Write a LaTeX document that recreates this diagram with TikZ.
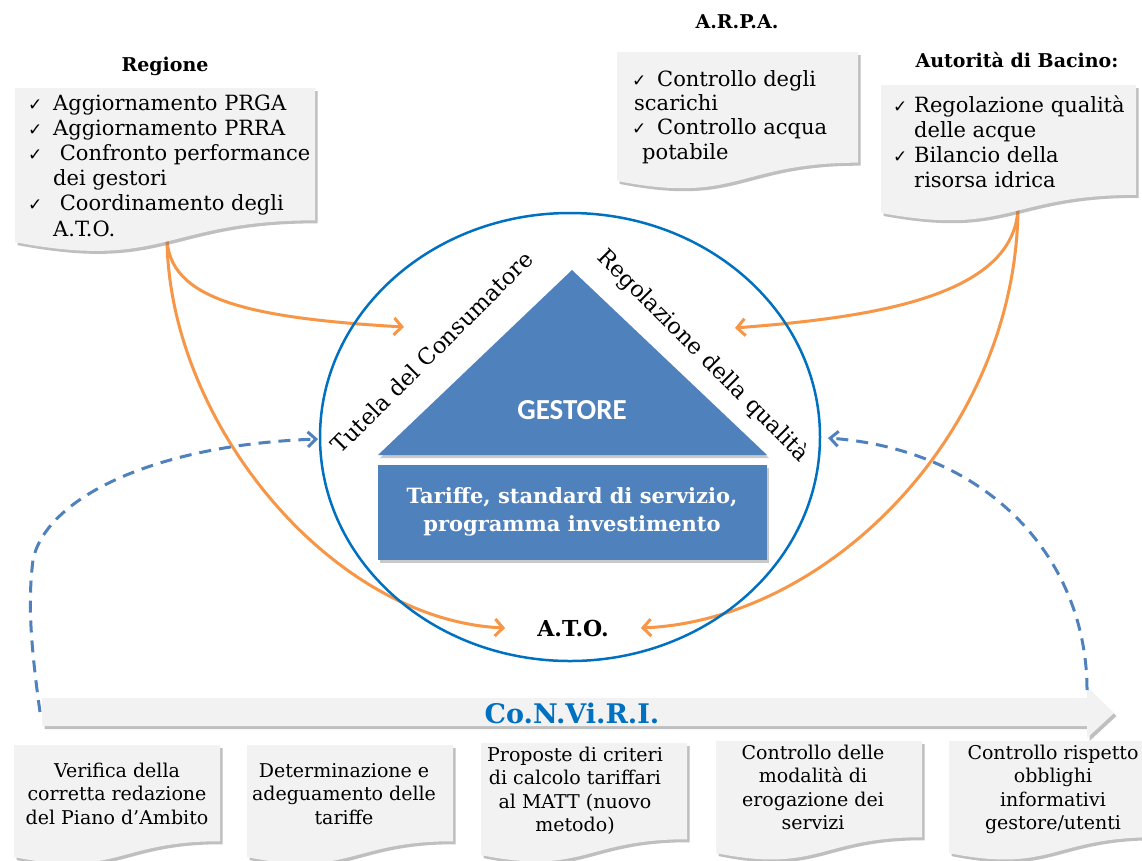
\documentclass[tikz,border=0pt]{standalone}
\usepackage{fontspec}
\setmainfont{DejaVu Serif}
\newfontfamily\gestfont{Carlito}
\newfontfamily\ckfont{DejaVu Sans}
\usetikzlibrary{arrows.meta,shadows}

\definecolor{accblue}{HTML}{4F81BD}
\definecolor{ringblue}{HTML}{0070C0}
\definecolor{flowor}{HTML}{F79646}
\definecolor{docgray}{HTML}{F2F2F2}

% check mark in a slot of given width, and the matching indent
\newcommand{\ckw}[1]{\makebox[#1][l]{\ckfont\fontsize{17}{17}\selectfont ✓}}
\newcommand{\ckb}{\ckw{25pt}}
\newcommand{\ind}{\hspace*{25pt}}

% flowchart "document" shape: x, y (top left), width, height
\newcommand{\docbox}[4]{%
  \fill[docgray, docshadow] (#1,#2) -- ({#1+#3},#2) -- ({#1+#3},{#2+0.802*#4})
    .. controls ({#1+0.5*#3},{#2+0.802*#4}) and ({#1+0.5*#3},{#2+1.107*#4}) ..
    (#1,{#2+0.934*#4}) -- cycle;}

\begin{document}
\begin{tikzpicture}[x=1pt,y=-1pt,
  docshadow/.style={drop shadow={shadow xshift=2.5pt,shadow yshift=-3pt,opacity=.45,fill=black!55}},
  shapeshadow/.style={drop shadow={shadow xshift=2pt,shadow yshift=-3pt,opacity=.35,fill=black!60}},
  oarrow/.style={draw=flowor, line width=3pt, line cap=round, -{Straight Barb[length=8pt,width=17pt]}},
  bdash/.style={draw=accblue, line width=3pt, dash pattern=on 12pt off 8pt, -{Straight Barb[length=8pt,width=15pt]}},
  ring/.style={draw=ringblue, line width=2.5pt},
  titletext/.style={font=\fontsize{19}{22}\selectfont\bfseries, inner sep=0pt},
  listtext/.style={font=\fontsize{21}{25.2}\selectfont, inner sep=0pt, anchor=base west},
  bottext/.style={font=\fontsize{19}{23.5}\selectfont, inner sep=0pt, anchor=base},
  sidetext/.style={font=\fontsize{22.5}{27}\selectfont, inner sep=0pt}]

\useasboundingbox (0,0) rectangle (1142,860);
\fill[white] (0,0) rectangle (1142,860);

% ---------- end points of the connectors ----------
\coordinate (regout) at (167,236);
\coordinate (bacout) at (1018,205);
\coordinate (tutin)  at (404,327);
\coordinate (regqin) at (735,328);
\coordinate (convL)  at (40,712);
\coordinate (convR)  at (1087,690);
\coordinate (tutL)   at (318,439);
\coordinate (regR)   at (828,438);

\node[font=\fontsize{22}{24}\selectfont\bfseries, inner ysep=0pt, inner xsep=32pt] (ato) at (573,628) {A.T.O.};

% ---------- orange flows ----------
\draw[oarrow] (regout) .. controls (167,300) and (250,318) .. (tutin);
\draw[oarrow] (regout) .. controls (167,420) and (330,620) .. (ato.west);
\draw[oarrow] (bacout) .. controls (1018,300) and (860,318) .. (regqin);
\draw[oarrow] (bacout) .. controls (1018,430) and (830,620) .. (ato.east);

% ---------- ring ----------
\draw[ring] (570,437) ellipse [x radius=250, y radius=224];

% ---------- gestore house ----------
\fill[accblue, shapeshadow] (572,270) -- (767,455) -- (378,455) -- cycle;
\fill[accblue, shapeshadow] (378,465) rectangle (767,560);
\node[font=\gestfont\fontsize{29}{32}\selectfont\bfseries, text=white] (gest) at (572,410) {GESTORE};
\node[font=\fontsize{21}{28}\selectfont\bfseries, text=white, align=center] (tariffe) at (572,512)
  {Tariffe, standard di servizio,\\programma investimento};

\node[sidetext, rotate=45]  (tutela) at (432,352) {Tutela del Consumatore};
\node[sidetext, rotate=-45] (regq)   at (703,356) {Regolazione della qualità};

% ---------- top boxes ----------
\docbox{15}{88}{300}{165}
\docbox{617}{52}{241}{138}
\docbox{881}{85}{255}{137}

\node[titletext] (regione) at (165,66) {Regione};
\node[titletext] (arpa) at (737,22) {A.R.P.A.};
\node[titletext] (bacino) at (1017,60) {Autorità di Bacino:};

\node[listtext] (reglist) at (28,110) {\begin{tabular}[t]{@{}l@{}}
  \ckb Aggiornamento PRGA\\
  \ckb Aggiornamento PRRA\\
  \ckb\ Confronto performance\\
  \ind dei gestori\\
  \ckb\ Coordinamento degli\\
  \ind A.T.O.\end{tabular}};

\node[listtext, font=\fontsize{21}{24.4}\selectfont] (arpalist) at (632,86) {\begin{tabular}[t]{@{}l@{}}
  \ckb Controllo degli\\
  \hspace*{2pt}scarichi\\
  \ckb Controllo acqua\\
  \hspace*{10pt}potabile\end{tabular}};

\node[listtext, font=\fontsize{21}{25}\selectfont] (baclist) at (893,112) {\begin{tabular}[t]{@{}l@{}}
  \ckw{21pt}Regolazione qualità\\
  \hspace*{21pt}delle acque\\
  \ckw{21pt}Bilancio della\\
  \hspace*{21pt}risorsa idrica\end{tabular}};

% ---------- Co.N.Vi.R.I. band ----------
\fill[docgray, docshadow] (42,698) -- (1087,698) -- (1087,687) -- (1114,713)
  -- (1087,738) -- (1087,726) -- (42,726) -- cycle;
\node[font=\fontsize{27}{30}\selectfont\bfseries, text=ringblue] (conv) at (572,713) {Co.N.Vi.R.I.};

% ---------- blue dashed links ----------
\draw[bdash] (convL) .. controls (30,640) and (28,600) .. (33,560)
  .. controls (45,500) and (150,445) .. (tutL);
\draw[bdash] (convR) .. controls (1087,560) and (990,450) .. (regR);

% ---------- bottom boxes ----------
\docbox{14}{745}{206}{120}
\docbox{247}{745}{206}{120}
\docbox{481}{743}{206}{120}
\docbox{716}{741}{206}{120}
\docbox{949}{741}{206}{120}

\node[bottext] (b1) at (117,777) {\begin{tabular}[t]{@{}c@{}}Verifica della\\corretta redazione\\del Piano d’Ambito\end{tabular}};
\node[bottext] (b2) at (344,777) {\begin{tabular}[t]{@{}c@{}}Determinazione e\\adeguamento delle\\tariffe\end{tabular}};
\node[bottext] (b3) at (575,761) {\begin{tabular}[t]{@{}c@{}}Proposte di criteri\\di calcolo tariffari\\al MATT (nuovo\\metodo)\end{tabular}};
\node[bottext] (b4) at (813,759) {\begin{tabular}[t]{@{}c@{}}Controllo delle\\modalità di\\erogazione dei\\servizi\end{tabular}};
\node[bottext] (b5) at (1053,759) {\begin{tabular}[t]{@{}c@{}}Controllo rispetto\\obblighi\\informativi\\gestore/utenti\end{tabular}};

\end{tikzpicture}
\end{document}
